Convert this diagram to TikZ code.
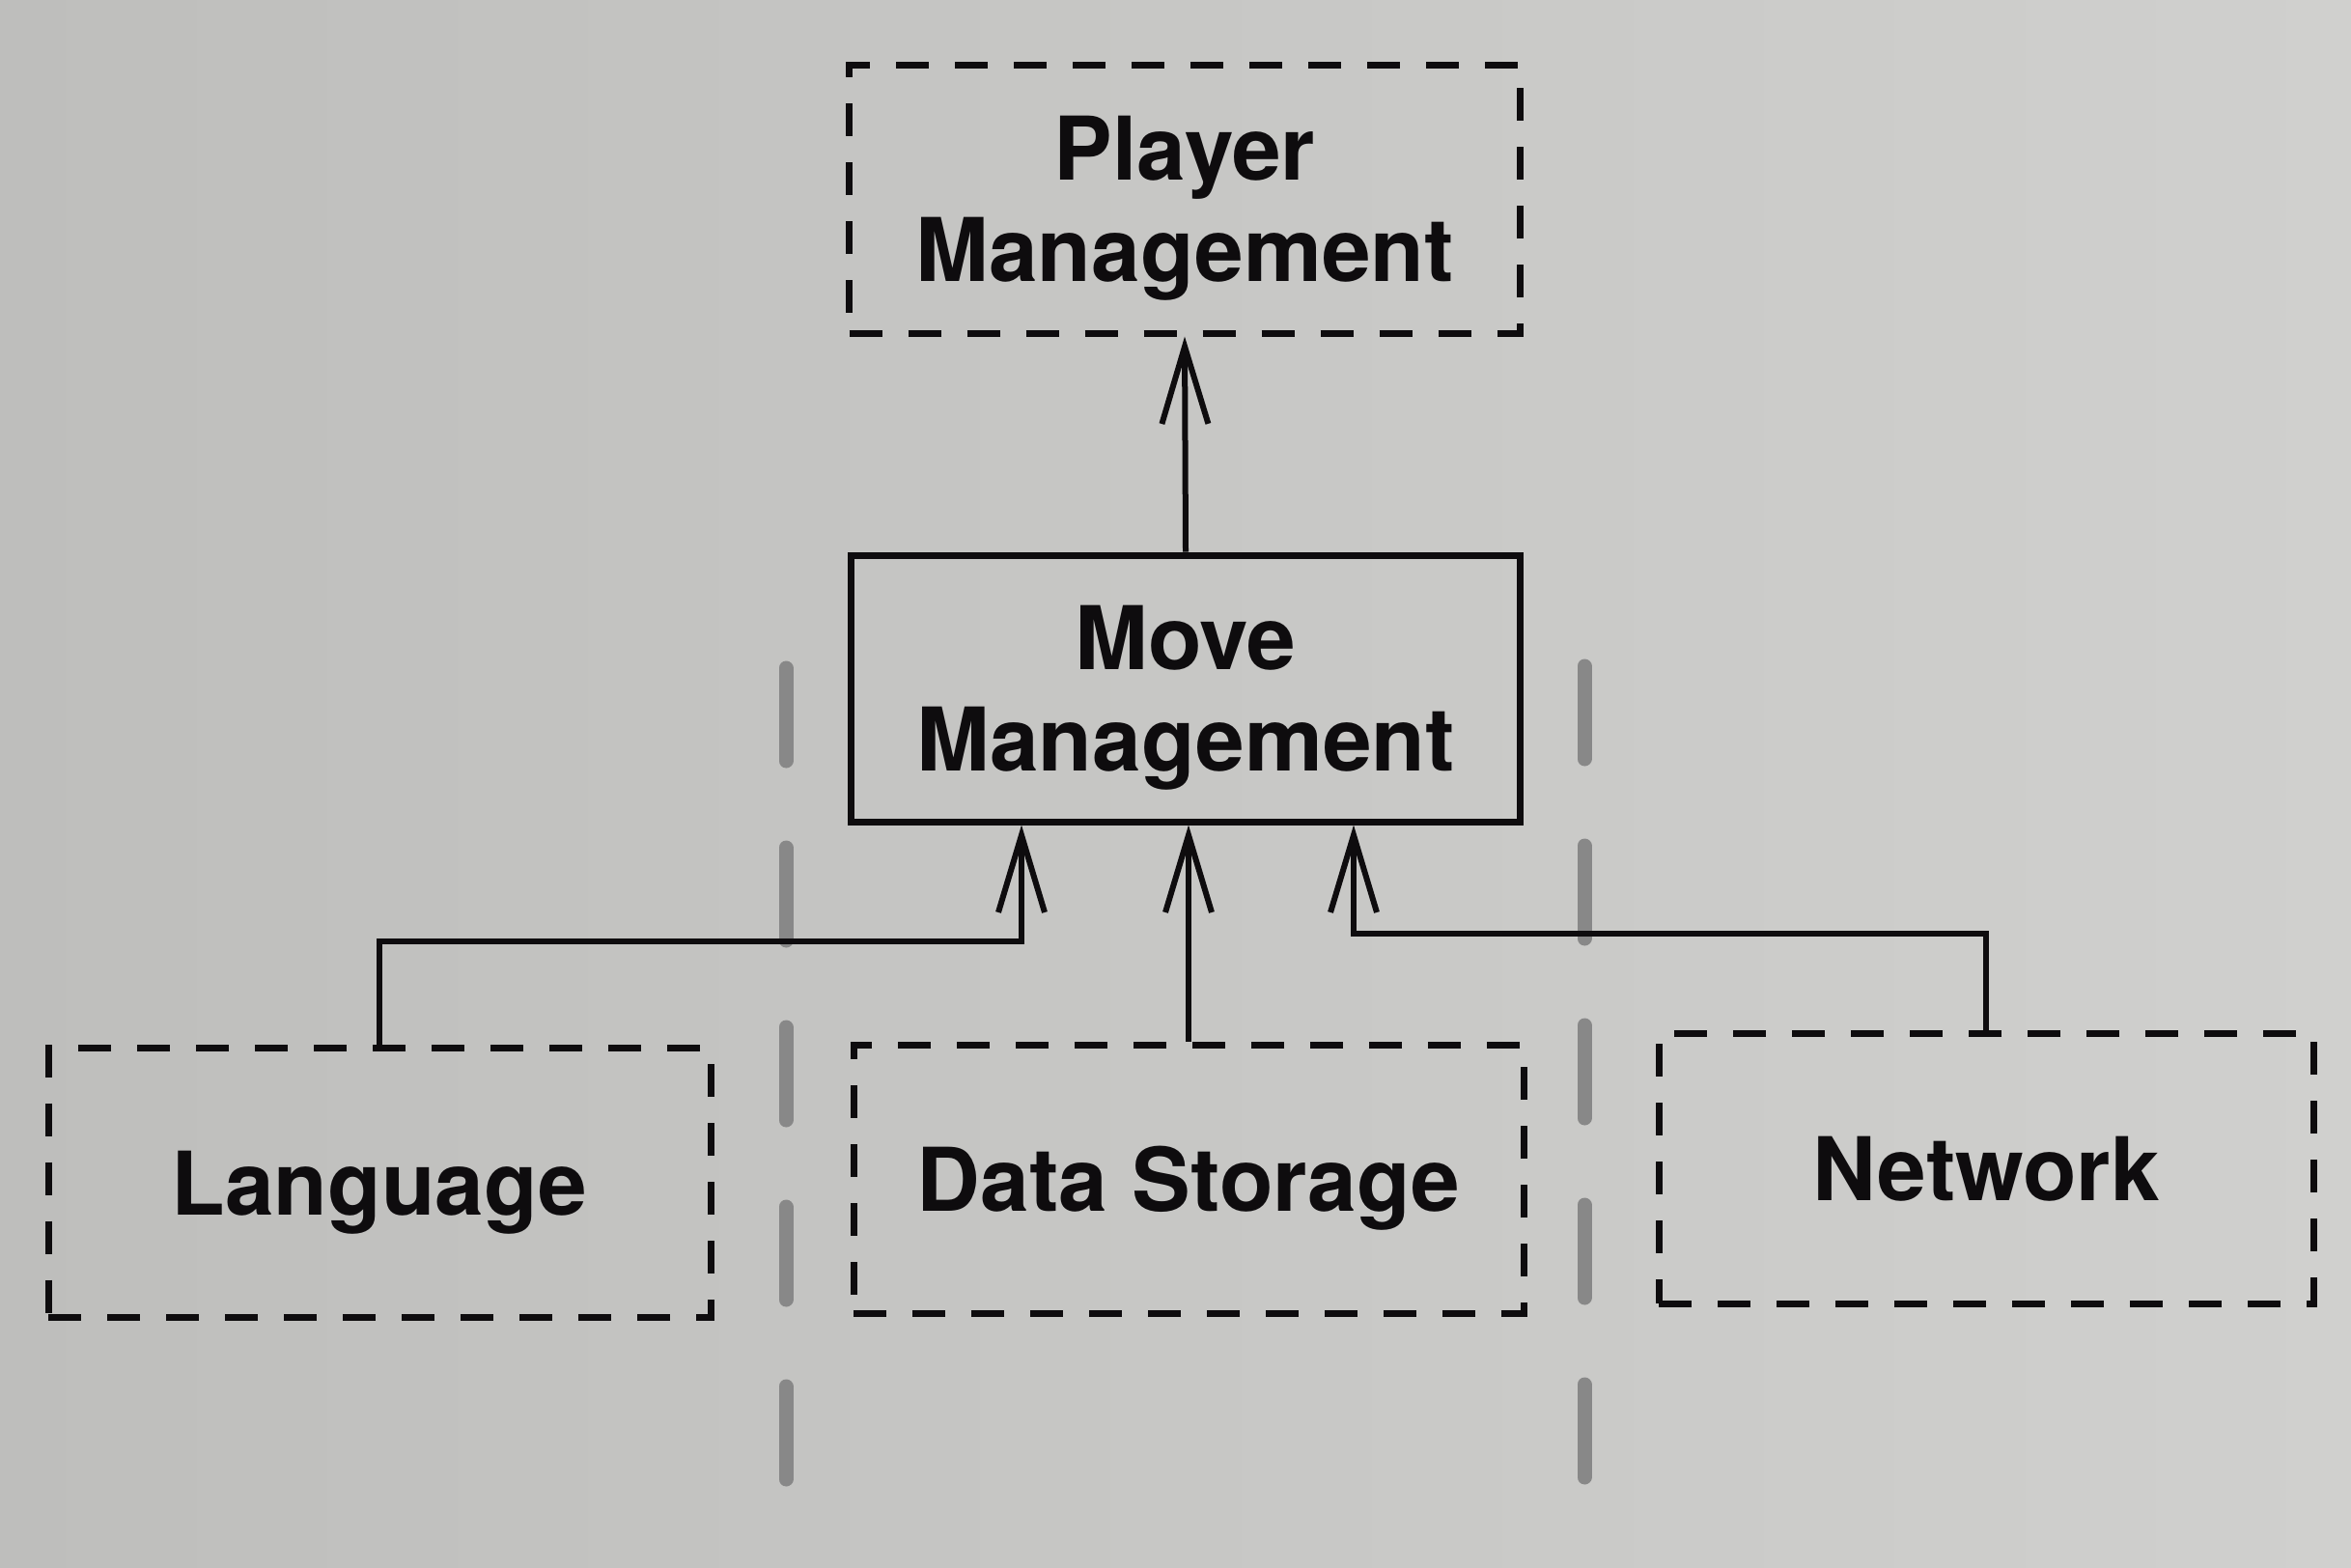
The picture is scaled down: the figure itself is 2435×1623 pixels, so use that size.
\documentclass[tikz,border=0pt]{standalone}
\usepackage{fontspec}
\setmainfont{TeX Gyre Heros}
\usetikzlibrary{arrows.meta,calc}
\definecolor{paperL}{RGB}{190,190,188}
\definecolor{paperM}{RGB}{214,214,212}
\definecolor{paperR}{RGB}{208,208,206}
\definecolor{ink}{RGB}{14,12,14}
\definecolor{rulegray}{RGB}{136,136,136}
\begin{document}
\begin{tikzpicture}[x=1pt,y=-1pt,
  box/.style={draw=ink, rectangle, line width=7pt, align=center, text=ink,
    font=\fontsize{91}{105}\selectfont\bfseries, text depth=0pt, inner sep=0pt},
  dashbox/.style={box, dash pattern=on 34pt off 27pt},
  conn/.style={draw=ink, line width=6pt, -{Straight Barb[length=80pt,width=48pt]}},
  divider/.style={draw=rulegray, line width=15pt, line cap=round, dash pattern=on 96pt off 90pt}]

% paper
\shade[left color=paperL, middle color=paperM, right color=paperR] (0,0) rectangle (2435,1623);
\useasboundingbox (0,0) rectangle (2435,1623);

% layer separators
\coordinate (sepLtop) at (814,692);
\coordinate (sepLbot) at (814,1532);
\coordinate (sepRtop) at (1641,690);
\coordinate (sepRbot) at (1641,1530);
\draw[divider] (sepLtop) -- (sepLbot);
\draw[divider] (sepRtop) -- (sepRbot);

% components
\node[dashbox, minimum width=695pt, minimum height=278pt] (player) at (1227,206) {Player\\Management};
\node[box, minimum width=693pt, minimum height=276pt] (move) at (1228,713) {Move\\Management};
\node[dashbox, minimum width=686pt, minimum height=279pt] (lang) at (393,1225) {Language};
\node[dashbox, minimum width=694pt, minimum height=278pt] (data) at (1231,1221) {Data Storage};
\node[dashbox, minimum width=678pt, minimum height=280pt] (net) at (2057,1210) {Network};

% dependencies
\coordinate (jl) at ($(move.south)+(-170,120)$);
\coordinate (jn) at ($(move.south)+(174,112)$);
\draw[conn] (move.north) -- (player.south);
\draw[conn] (data.north) -- (move.south -| data.north);
\draw[conn] (lang.north) |- (jl) -- (jl |- move.south);
\draw[conn] (net.north) |- (jn) -- (jn |- move.south);
\end{tikzpicture}
\end{document}
